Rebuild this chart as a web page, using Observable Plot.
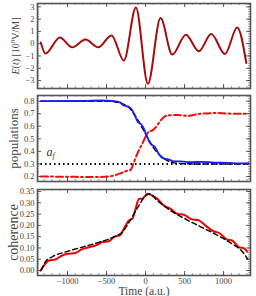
<!DOCTYPE html>
<html><head><meta charset="utf-8">
<script src="https://cdn.jsdelivr.net/npm/d3@7"></script>
<script src="https://cdn.jsdelivr.net/npm/@observablehq/plot@0.6"></script>
<style>
body{margin:0;background:#fff;}
#c{width:256px;}
#c svg{display:block;}
</style></head><body><div id="c"></div>
<script>
// ---- data ----
const tE = [-1343,-1282,-1099,-940,-769,-607,-436,-278,-124,30,192,342,517,683,842,1017,1175,1291];
const E  = [0.1,-0.8,0.51,-0.3,0.33,-0.3,0.67,-1.38,2.94,-3.27,2.08,-0.89,0.73,-0.62,0.79,-0.84,1.32,-1.57];

const tBlue = [-1340,-900,-577,-405,-330,-280,-220,-180,-140,-100,-60,-25,10,50,85,120,160,200,250,300,360,450,577,705,876,1047,1218,1320];
const blue  = [0.800,0.801,0.805,0.800,0.790,0.765,0.757,0.735,0.690,0.635,0.618,0.585,0.530,0.475,0.450,0.435,0.390,0.355,0.340,0.335,0.320,0.320,0.314,0.317,0.311,0.309,0.304,0.306];

const tBlk = [-1340,-500,-400,-300,-200,-100,0,100,200,300,400,600,1320];
const blk  = [0.80,0.80,0.795,0.78,0.74,0.65,0.54,0.43,0.36,0.32,0.305,0.30,0.30];

const tRed = [-1340,-900,-577,-405,-320,-256,-192,-150,-107,-43,21,50,85,149,192,278,406,534,705,919,1132,1303];
const red  = [0.20,0.197,0.195,0.208,0.226,0.242,0.253,0.314,0.38,0.46,0.54,0.56,0.566,0.606,0.646,0.686,0.69,0.683,0.70,0.705,0.70,0.70];

const af = 0.3;
const afLabel = {t: -1218, y: 0.39};

const tCoh = [-1346,-1303,-1239,-1154,-1090,-1004,-897,-833,-726,-620,-556,-470,-406,-320,-278,-214,-171,-128,-85,-43,21,85,150,235,320,406,491,577,684,769,876,940,1047,1111,1197,1261,1303];
const coh  = [0.0,0.022,0.044,0.049,0.063,0.074,0.078,0.092,0.103,0.114,0.126,0.13,0.148,0.158,0.185,0.222,0.229,0.273,0.318,0.318,0.34,0.332,0.318,0.288,0.273,0.251,0.247,0.229,0.222,0.199,0.173,0.167,0.137,0.133,0.103,0.099,0.084];

const tCohD = [-1340,-1280,-1200,-1000,-800,-600,-400,-300,-200,-100,0,50,150,300,500,700,900,1100,1250,1310];
const cohD  = [0.0,0.04,0.06,0.085,0.105,0.125,0.15,0.17,0.22,0.28,0.33,0.34,0.31,0.27,0.23,0.195,0.16,0.12,0.08,0.05];

const xTicks = [-1000,-500,0,500,1000];
const xMinor = d3.range(-1300,1301,100);
const eTicks = [-3,-2,-1,0,1,2,3];
const eMinor = d3.range(-3.6,3.21,0.2);
const pTicks = [0.2,0.3,0.4,0.5,0.6,0.7,0.8];
const pMinor = d3.range(0.16,0.841,0.02);
const cTicks = [0,0.05,0.1,0.15,0.2,0.25,0.3,0.35];
const cMinor = d3.range(-0.02,0.3551,0.01);

// ---- layout ----
const W = 256, ML = 37, MR = 6;
const xDomain = [-1385,1345];
const FONT = "Liberation Serif";
const INK = "#333";

function panel({height, mt, mb, yDomain, yTicks, yMinor, yFmt, marks, showX, ylabel, ylabelSize, ylabelDx}) {
  const pw = W - ML - MR, ph = height - mt - mb;
  const m = [
    ...marks,
    Plot.tickY(yTicks, {y: d => d, insetRight: pw - 4, stroke: INK, strokeWidth: 0.8}),
    Plot.tickY(yTicks, {y: d => d, insetLeft: pw - 4, stroke: INK, strokeWidth: 0.8}),
    Plot.tickY(yMinor, {y: d => d, insetRight: pw - 2, stroke: INK, strokeWidth: 0.5}),
    Plot.tickY(yMinor, {y: d => d, insetLeft: pw - 2, stroke: INK, strokeWidth: 0.5}),
    Plot.tickX(xTicks, {x: d => d, insetTop: ph - 4, stroke: INK, strokeWidth: 0.8}),
    Plot.tickX(xTicks, {x: d => d, insetBottom: ph - 4, stroke: INK, strokeWidth: 0.8}),
    Plot.tickX(xMinor, {x: d => d, insetTop: ph - 2, stroke: INK, strokeWidth: 0.5}),
    Plot.tickX(xMinor, {x: d => d, insetBottom: ph - 2, stroke: INK, strokeWidth: 0.5}),
    Plot.axisY(yTicks, {tickSize: 0, tickPadding: 3, tickFormat: yFmt, label: null, fontSize: 8.5, fill: "#444"}),
    Plot.text([ylabel], {text: d => d, frameAnchor: "left", textAnchor: "middle", rotate: -90, dx: ylabelDx, fontSize: ylabelSize, fill: "#444", lineAnchor: "middle"}),
    Plot.frame({stroke: "#555", strokeWidth: 1.6})
  ];
  if (showX) {
    m.push(Plot.axisX(xTicks, {tickSize: 0, tickPadding: 2, tickFormat: d3.format("d"), label: null, fontSize: 8.5, fill: "#444"}));
    m.push(Plot.text(["Time (a.u.)"], {text: d => d, frameAnchor: "bottom", dy: 15.5, fontSize: 11.5, fill: "#444", lineAnchor: "middle"}));
  }
  return Plot.plot({
    width: W, height, marginLeft: ML, marginRight: MR, marginTop: mt, marginBottom: mb,
    style: {fontFamily: FONT, background: "white", color: "#222", overflow: "visible"},
    x: {domain: xDomain, axis: showX ? undefined : null},
    y: {domain: yDomain},
    marks: m
  });
}

const eData = tE.map((t, i) => ({t, v: E[i]}));
const blueData = tBlue.map((t, i) => ({t, v: blue[i]}));
const blkData = tBlk.map((t, i) => ({t, v: blk[i]}));
const redData = tRed.map((t, i) => ({t, v: red[i]}));
const cohData = tCoh.map((t, i) => ({t, v: coh[i]}));
const cohDData = tCohD.map((t, i) => ({t, v: cohD[i]}));

const p1 = panel({
  height: 92, mt: 3, mb: 4, yDomain: [-3.65, 3.27], yTicks: eTicks, yMinor: eMinor, yFmt: d3.format("d"),
  ylabel: "E(t) [10^8V/M]", ylabelSize: 10, ylabelDx: -22,
  marks: [Plot.line(eData, {x: "t", y: "v", stroke: "#a50d0d", strokeWidth: 2, curve: "monotone-x"})]
});
const p2 = panel({
  height: 93, mt: 3, mb: 4, yDomain: [0.16, 0.845], yTicks: pTicks, yMinor: pMinor, yFmt: d3.format(".1f"),
  ylabel: "populations", ylabelSize: 13, ylabelDx: -24,
  marks: [
    Plot.ruleY([af], {x1: tBlue[0], x2: tBlue[tBlue.length - 1], stroke: "black", strokeWidth: 2, strokeDasharray: "1.5,3"}),
    Plot.line(redData, {x: "t", y: "v", stroke: "#f01010", strokeWidth: 2, strokeDasharray: "7,3,2,3", curve: "monotone-x"}),
    Plot.line(blkData, {x: "t", y: "v", stroke: "black", strokeWidth: 1.5, strokeDasharray: "5,3", curve: "monotone-x"}),
    Plot.line(blueData, {x: "t", y: "v", stroke: "#1a1aff", strokeWidth: 1.8, curve: "monotone-x"}),
    Plot.text([afLabel], {x: "t", y: "y", text: () => "af", fontSize: 12, fill: "#333"})
  ]
});
const p3 = panel({
  height: 111, mt: 4, mb: 21, yDomain: [-0.022, 0.359], yTicks: cTicks, yMinor: cMinor, yFmt: d3.format(".2f"),
  ylabel: "coherence", ylabelSize: 14, ylabelDx: -24, showX: true,
  marks: [
    Plot.line(cohData, {x: "t", y: "v", stroke: "#f00000", strokeWidth: 2, curve: "monotone-x"}),
    Plot.line(cohDData, {x: "t", y: "v", stroke: "black", strokeWidth: 1.4, strokeDasharray: "5,3", curve: "monotone-x"})
  ]
});

// rich text fixes
d3.select(p1).selectAll("text").filter(function () { return this.textContent === "E(t) [10^8V/M]"; })
  .html('<tspan font-style="italic">E</tspan>(<tspan font-style="italic">t</tspan>) [10<tspan font-size="7" dy="-4">8</tspan><tspan dy="4">V/M]</tspan>');
d3.select(p2).selectAll("text").filter(function () { return this.textContent === "af"; })
  .html('<tspan font-style="italic">a</tspan><tspan font-style="italic" font-size="8" dy="2">f</tspan>');

const c = document.getElementById("c");
c.append(p1, p2, p3);
</script>
</body></html>
